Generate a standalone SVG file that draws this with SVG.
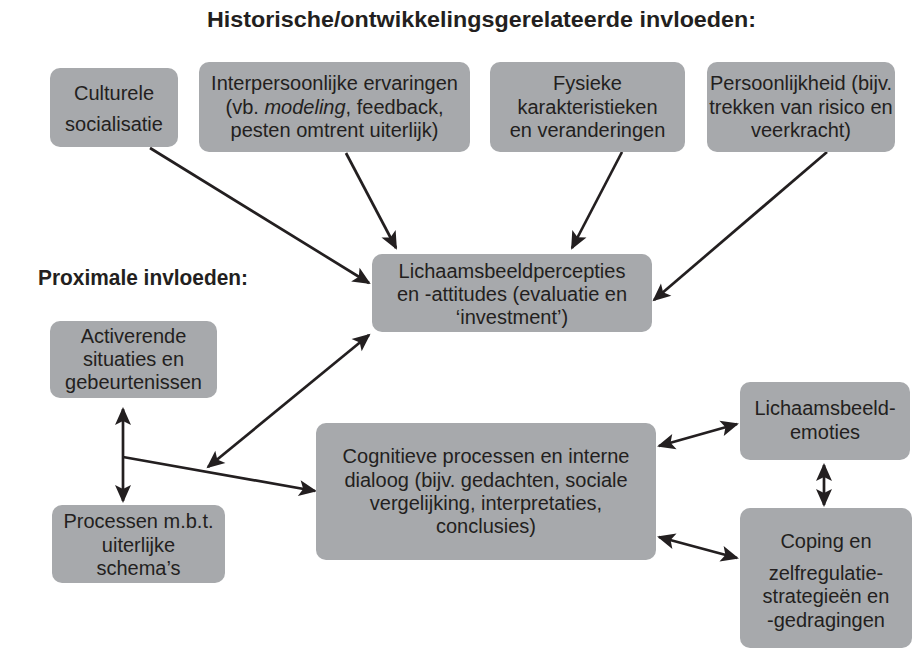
<svg xmlns="http://www.w3.org/2000/svg" width="918" height="651" viewBox="0 0 918 651">
<style>
.box{fill:#a7a9ac;}
.t{font-family:"Liberation Sans",Arial,Helvetica,sans-serif;font-size:20px;fill:#231f20;text-anchor:middle;}
.h{font-family:"Liberation Sans",Arial,Helvetica,sans-serif;font-size:21.5px;font-weight:bold;fill:#231f20;}
.c{stroke:#231f20;stroke-width:2.7;fill:none;}
</style>
<defs>
<marker id="ah" viewBox="-19 -9 22 18" refX="0" refY="0" markerWidth="22" markerHeight="18" markerUnits="userSpaceOnUse" orient="auto-start-reverse" overflow="visible">
<path d="M2,0 L-16,-8 L-12,0 L-16,8 Z" fill="#231f20"/>
</marker>
</defs>
<rect width="918" height="651" fill="#ffffff"/>
<text class="h" x="207" y="27" textLength="549" lengthAdjust="spacingAndGlyphs">Historische/ontwikkelingsgerelateerde invloeden:</text>
<text class="h" x="38" y="285" textLength="210" lengthAdjust="spacingAndGlyphs">Proximale invloeden:</text>

<g id="connectors">
<line class="c" x1="150" y1="148" x2="369" y2="283" marker-end="url(#ah)"/>
<line class="c" x1="346" y1="153" x2="396" y2="248" marker-end="url(#ah)"/>
<line class="c" x1="622" y1="152" x2="572" y2="248" marker-end="url(#ah)"/>
<line class="c" x1="827" y1="152" x2="654" y2="300" marker-end="url(#ah)"/>
<line class="c" x1="369" y1="335" x2="208" y2="467" marker-start="url(#ah)" marker-end="url(#ah)"/>
<line class="c" x1="123" y1="409" x2="123" y2="501" marker-start="url(#ah)" marker-end="url(#ah)"/>
<line class="c" x1="123" y1="457" x2="315" y2="491" marker-end="url(#ah)"/>
<line class="c" x1="659" y1="446" x2="737" y2="424" marker-start="url(#ah)" marker-end="url(#ah)"/>
<line class="c" x1="824" y1="465" x2="824" y2="505" marker-start="url(#ah)" marker-end="url(#ah)"/>
<line class="c" x1="659" y1="537" x2="737" y2="558" marker-start="url(#ah)" marker-end="url(#ah)"/>
</g>

<g id="culturele">
<rect class="box" x="50" y="68" width="128" height="79" rx="10"/>
<text class="t" x="114" y="100">Culturele</text>
<text class="t" x="114" y="131">socialisatie</text>
</g>
<g id="interpersoonlijk">
<rect class="box" x="199" y="62" width="271" height="90" rx="10"/>
<text class="t" x="334.5" y="90">Interpersoonlijke ervaringen</text>
<text class="t" x="334.5" y="114">(vb. <tspan font-style="italic">modeling</tspan>, feedback,</text>
<text class="t" x="334.5" y="137">pesten omtrent uiterlijk)</text>
</g>
<g id="fysieke">
<rect class="box" x="490" y="62" width="195" height="90" rx="10"/>
<text class="t" x="587.5" y="90">Fysieke</text>
<text class="t" x="587.5" y="114">karakteristieken</text>
<text class="t" x="587.5" y="137">en veranderingen</text>
</g>
<g id="persoonlijkheid">
<rect class="box" x="707" y="62" width="188" height="90" rx="10"/>
<text class="t" x="801" y="90">Persoonlijkheid (bijv.</text>
<text class="t" x="801" y="114">trekken van risico en</text>
<text class="t" x="801" y="137">veerkracht)</text>
</g>
<g id="percepties">
<rect class="box" x="372" y="254" width="280" height="78" rx="10"/>
<text class="t" x="512" y="278">Lichaamsbeeldpercepties</text>
<text class="t" x="512" y="301">en -attitudes (evaluatie en</text>
<text class="t" x="512" y="324">‘investment’)</text>
</g>
<g id="activerende">
<rect class="box" x="50" y="321" width="167" height="77" rx="10"/>
<text class="t" x="133.5" y="343">Activerende</text>
<text class="t" x="133.5" y="366">situaties en</text>
<text class="t" x="133.5" y="389">gebeurtenissen</text>
</g>
<g id="processen">
<rect class="box" x="52" y="505" width="173" height="78" rx="10"/>
<text class="t" x="138.5" y="528">Processen m.b.t.</text>
<text class="t" x="138.5" y="552">uiterlijke</text>
<text class="t" x="138.5" y="575">schema’s</text>
</g>
<g id="cognitief">
<rect class="box" x="316" y="423" width="340" height="137" rx="10"/>
<text class="t" x="486" y="463">Cognitieve processen en interne</text>
<text class="t" x="486" y="487">dialoog (bijv. gedachten, sociale</text>
<text class="t" x="486" y="510">vergelijking, interpretaties,</text>
<text class="t" x="486" y="533">conclusies)</text>
</g>
<g id="emoties">
<rect class="box" x="740" y="382" width="170" height="78" rx="10"/>
<text class="t" x="825" y="415">Lichaamsbeeld-</text>
<text class="t" x="825" y="439">emoties</text>
</g>
<g id="coping">
<rect class="box" x="740" y="508" width="172" height="140" rx="10"/>
<text class="t" x="826" y="548">Coping en</text>
<text class="t" x="826" y="580">zelfregulatie-</text>
<text class="t" x="826" y="603">strategieën en</text>
<text class="t" x="826" y="627">-gedragingen</text>
</g>
</svg>
